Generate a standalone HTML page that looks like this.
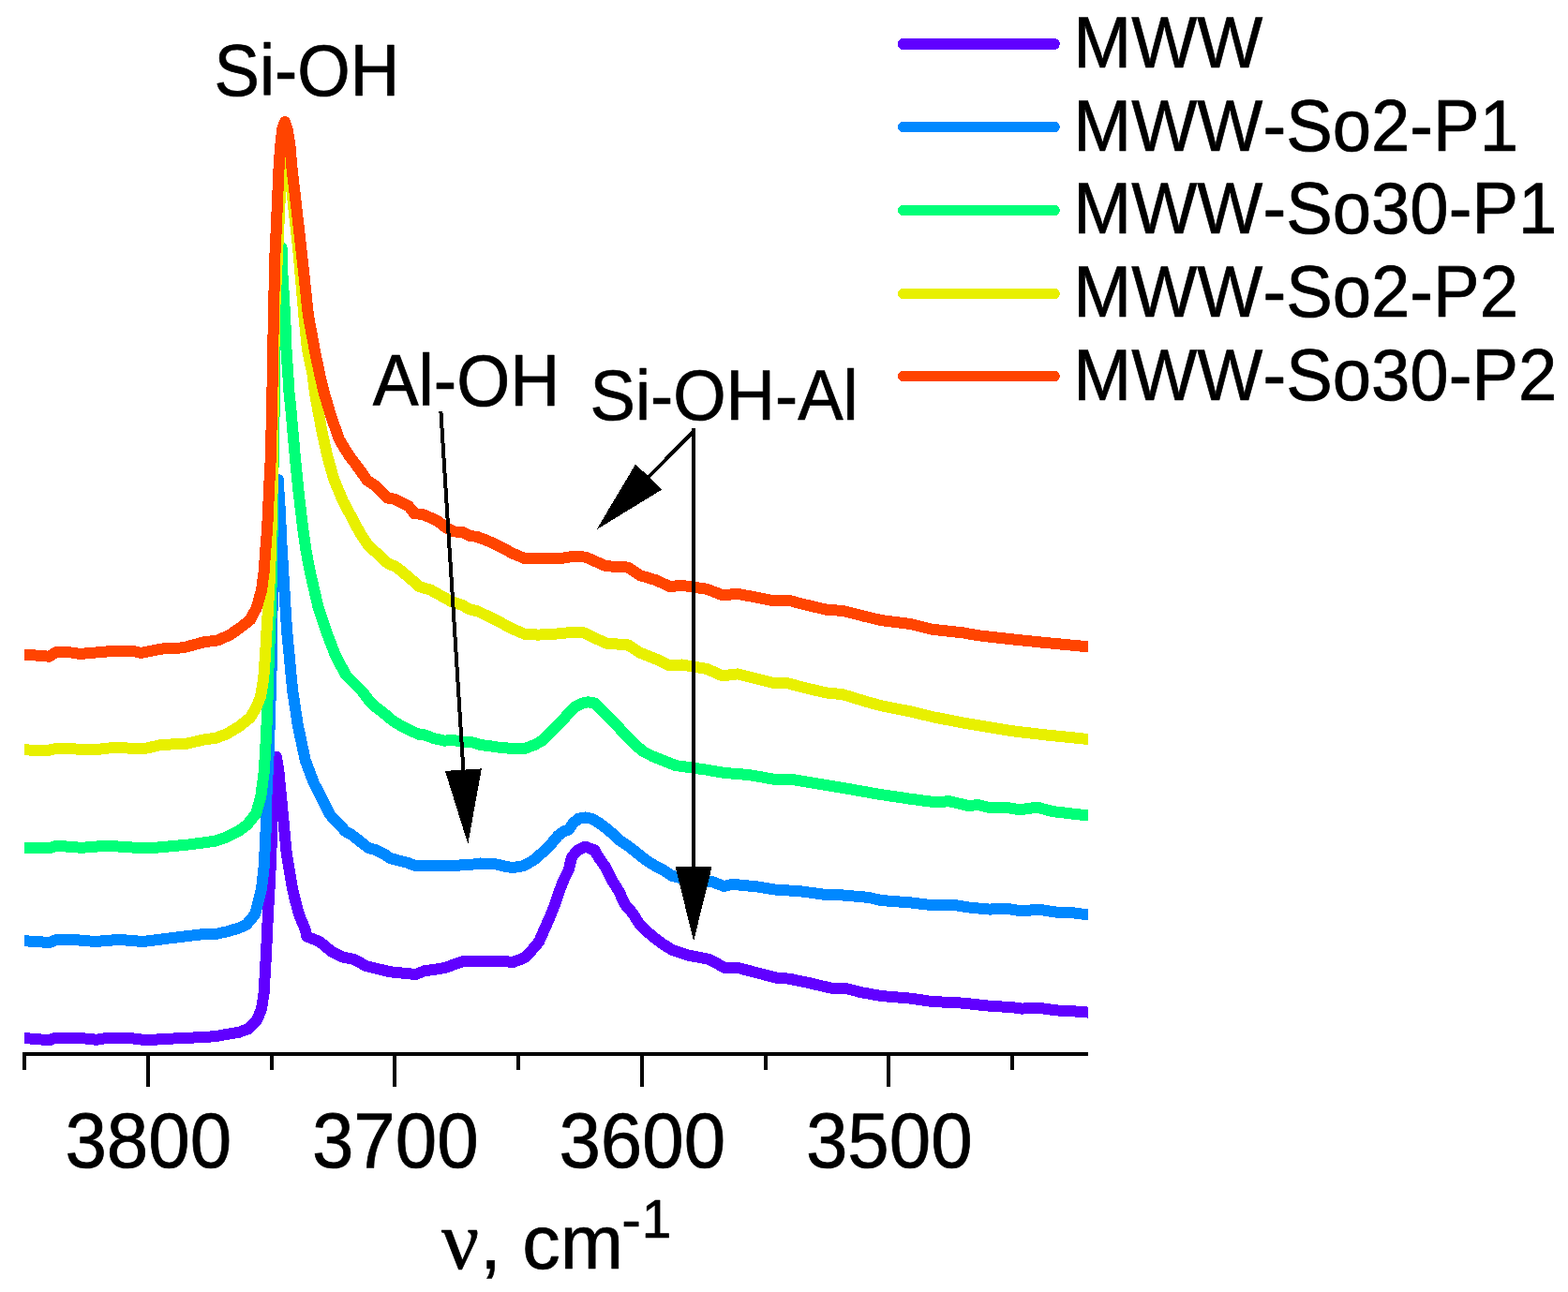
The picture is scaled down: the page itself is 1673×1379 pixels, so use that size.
<!DOCTYPE html>
<html lang="en"><head><meta charset="utf-8"><title>IR spectra of MWW zeolites</title>
<style>
html,body{margin:0;padding:0;background:#fff;}
body{width:1673px;height:1379px;overflow:hidden;}
svg{display:block;}
text{font-family:"Liberation Sans",sans-serif;fill:#000;font-kerning:none;stroke:#000;stroke-width:0.7px;stroke-linejoin:round;}
.tick{text-anchor:middle;}
.nu{font-family:"Liberation Serif",serif;}
</style></head><body>
<svg width="1673" height="1379" viewBox="0 0 1673 1379">
<rect width="1673" height="1379" fill="#fff"/>
<defs><clipPath id="plot"><rect x="26" y="0" width="1135" height="1123"/></clipPath></defs>
<g clip-path="url(#plot)" shape-rendering="crispEdges">
<polyline points="20.0,1108.0 26.0,1108.0 52.6,1110.2 59.8,1107.5 81.6,1107.5 103.3,1109.8 116.0,1107.5 134.0,1107.5 156.0,1110.2 181.0,1108.7 217.5,1107.0 230.0,1106.1 242.3,1103.9 254.7,1101.8 264.6,1098.4 273.8,1089.5 279.0,1077.0 281.8,1058.6 283.0,1034.0 284.0,1020.0 284.9,997.0 286.1,973.3 287.5,948.6 289.4,911.7 290.0,874.7 295.0,808.0 297.4,823.3 301.9,870.0 305.8,911.7 312.0,948.6 314.8,960.0 318.2,973.3 320.0,978.5 325.6,991.8 327.4,999.5 341.0,1005.0 353.3,1015.3 365.6,1021.6 378.0,1024.0 390.3,1030.9 402.6,1034.0 415.0,1037.0 420.0,1037.7 443.6,1040.0 452.6,1036.4 474.4,1033.1 494.3,1025.9 521.5,1025.9 530.0,1025.5 547.4,1026.9 559.0,1022.6 567.7,1013.9 575.0,1005.2 580.8,992.1 586.6,979.1 592.4,964.6 596.7,951.5 601.1,939.9 606.9,928.3 609.8,915.3 615.6,908.0 624.3,903.7 634.4,907.3 638.8,915.3 646.0,925.4 653.3,939.9 660.5,951.5 666.3,964.6 675.0,974.7 682.3,986.3 689.5,993.6 698.2,1000.8 706.9,1007.4 717.1,1013.9 733.8,1019.5 757.1,1024.0 773.2,1033.0 787.6,1033.0 809.1,1038.7 828.8,1043.7 841.4,1044.6 859.3,1048.2 886.2,1054.5 904.1,1055.4 918.1,1059.0 939.9,1063.0 972.5,1065.7 994.3,1069.0 1026.9,1070.6 1054.1,1073.5 1081.3,1075.3 1090.3,1076.6 1108.4,1075.7 1126.6,1078.4 1144.7,1079.3 1161.0,1080.6 1170.0,1081.0" fill="none" stroke="#6000ff" stroke-width="12" stroke-linejoin="round" stroke-linecap="butt"/>
<polyline points="20.0,1004.2 26.0,1004.2 52.6,1006.0 59.8,1003.3 78.0,1002.9 101.5,1005.0 127.0,1002.9 152.3,1005.0 181.0,1001.4 217.5,997.0 230.0,997.0 242.3,994.3 254.7,990.6 262.8,987.0 272.0,976.0 274.4,967.0 279.0,948.6 281.8,924.0 283.6,887.0 284.4,850.0 285.7,823.3 286.9,798.6 288.1,761.7 290.0,700.0 290.0,673.0 291.2,624.0 297.0,512.0 297.4,523.3 299.2,550.0 299.8,570.0 302.3,611.7 306.1,673.3 308.7,700.0 310.5,720.0 312.2,737.0 317.8,774.0 325.6,811.0 334.8,835.6 342.3,850.0 347.3,859.9 352.2,869.7 360.8,878.4 368.2,887.0 375.6,891.3 384.3,898.1 392.9,904.9 401.5,907.3 410.1,911.7 416.3,916.0 425.0,918.4 434.8,920.9 443.4,924.0 453.3,923.7 478.0,923.9 489.1,923.7 496.5,922.7 505.1,922.5 512.5,921.5 521.1,922.1 530.0,922.5 538.7,924.7 547.4,926.1 559.0,924.0 569.2,918.2 579.3,909.5 588.0,900.8 595.3,892.1 601.1,887.7 606.9,885.5 611.2,879.0 617.0,873.9 624.3,872.5 631.5,873.9 640.2,879.0 650.4,887.0 660.5,896.4 669.2,902.2 679.4,910.2 689.5,918.2 699.7,924.7 708.4,929.0 717.1,934.8 722.9,936.3 740.0,939.5 759.8,941.0 772.5,946.0 781.6,943.8 808.8,946.5 826.9,949.5 854.1,951.3 881.3,955.0 899.4,955.5 927.2,957.9 939.9,961.0 972.5,963.5 990.6,965.7 1017.8,966.0 1035.9,968.8 1055.9,970.6 1074.0,969.7 1090.3,972.4 1108.4,970.6 1126.6,973.6 1144.7,974.2 1161.0,976.5 1170.0,977.0" fill="none" stroke="#0088ff" stroke-width="12" stroke-linejoin="round" stroke-linecap="butt"/>
<polyline points="20.0,904.5 26.0,904.5 52.6,905.4 59.8,902.7 87.0,904.8 114.0,902.7 148.6,905.0 163.0,905.0 199.4,901.7 230.0,897.7 242.3,893.2 254.7,887.0 264.0,880.0 273.2,868.5 278.3,850.0 281.8,823.3 283.3,798.6 285.1,761.7 286.9,700.0 288.1,673.3 290.0,611.7 291.5,500.0 293.0,420.0 293.4,355.0 300.5,264.0 301.1,287.0 304.1,336.3 305.5,373.3 307.3,400.0 308.6,420.0 310.4,437.0 314.7,486.3 318.4,523.3 321.5,550.0 324.0,570.0 326.4,587.0 331.1,611.7 339.7,648.6 347.8,673.3 357.3,698.0 358.4,700.0 363.3,709.9 369.5,721.0 378.1,729.6 386.7,738.2 394.1,748.1 400.3,754.3 410.1,761.7 418.8,769.1 428.6,775.2 437.3,779.5 447.1,783.8 453.3,784.5 463.2,788.2 474.3,790.6 484.1,790.0 494.0,791.9 502.6,791.9 512.5,795.0 522.4,796.2 530.0,797.4 542.3,798.6 560.8,798.6 570.7,794.9 579.3,790.0 589.2,780.1 597.8,771.5 606.4,761.7 613.8,754.3 621.2,750.6 627.4,749.3 634.8,750.6 641.0,756.7 648.4,764.1 657.0,772.7 664.4,781.4 671.8,788.8 679.2,796.2 686.6,802.3 696.5,807.3 708.8,812.2 721.1,817.1 754.4,821.7 772.5,824.9 799.7,827.1 826.9,832.0 845.0,832.0 881.3,838.0 899.4,840.9 936.3,847.5 972.5,852.9 999.7,856.5 1012.4,855.1 1034.1,860.2 1043.2,858.9 1057.7,862.5 1072.2,861.6 1088.5,864.3 1106.6,861.6 1123.0,866.1 1161.0,870.5 1170.0,871.0" fill="none" stroke="#00ff78" stroke-width="12" stroke-linejoin="round" stroke-linecap="butt"/>
<polyline points="20.0,800.4 26.0,800.4 50.7,801.0 61.6,798.6 99.7,800.4 123.0,797.7 152.0,799.5 172.0,795.0 199.0,793.7 217.5,789.5 230.0,787.8 242.3,783.2 254.7,775.8 267.0,766.0 273.2,755.5 278.1,743.2 281.2,724.7 283.0,700.0 284.5,673.3 286.1,648.6 288.1,611.7 289.4,570.0 290.0,550.0 290.6,523.3 291.8,420.0 293.0,336.0 296.1,270.0 299.3,200.0 303.5,140.0 311.0,200.0 318.6,270.0 324.3,336.3 328.0,373.3 333.6,400.0 336.0,420.0 339.1,437.0 343.7,461.7 349.2,486.3 356.0,511.0 366.3,535.6 373.0,548.0 379.3,560.0 385.5,571.1 392.9,582.2 404.0,592.1 413.8,601.3 422.5,605.0 431.1,611.8 441.0,620.4 447.1,626.0 459.5,629.7 469.3,635.2 481.7,642.0 492.8,645.7 500.2,650.0 510.0,652.5 519.9,657.4 530.0,662.3 546.9,671.2 559.6,676.7 574.1,677.6 592.2,676.7 610.3,674.9 623.0,675.4 646.6,686.6 670.1,688.4 682.8,696.6 701.0,703.9 714.5,710.4 727.2,709.5 754.4,714.0 770.7,721.3 787.0,719.4 808.8,724.9 826.9,729.4 841.4,729.4 854.1,733.0 881.3,739.4 899.4,741.2 923.6,748.7 939.9,753.2 972.5,759.6 994.3,765.0 1026.9,771.4 1045.0,774.4 1081.3,780.4 1117.5,784.6 1161.0,789.0 1170.0,790.0" fill="none" stroke="#e8f000" stroke-width="12" stroke-linejoin="round" stroke-linecap="butt"/>
<polyline points="20.0,698.5 26.0,698.5 52.6,700.7 59.8,696.2 76.0,696.5 85.0,698.0 116.0,695.3 141.0,694.7 150.4,697.0 172.0,692.6 195.8,691.3 217.5,685.3 232.0,683.5 244.7,678.0 256.0,670.2 267.0,661.6 273.8,648.6 279.0,630.0 281.5,611.7 283.3,587.0 284.7,570.0 285.9,550.0 287.0,523.3 288.9,486.3 290.4,420.0 291.9,336.3 293.5,270.0 294.5,250.0 297.8,174.0 299.0,158.5 301.0,139.0 304.0,130.0 306.8,139.0 309.9,158.5 311.0,175.0 319.6,250.0 323.7,287.0 328.9,336.3 335.7,373.3 341.2,400.0 346.0,420.0 349.7,432.3 353.4,444.7 357.7,457.0 362.1,469.3 371.9,485.4 379.3,495.2 385.5,503.8 391.7,512.5 399.0,517.4 406.4,524.8 413.8,531.6 421.2,532.8 428.6,536.5 436.0,540.2 442.2,548.2 450.8,548.9 459.5,552.6 468.1,556.9 475.5,563.0 484.1,567.4 494.0,568.0 500.2,571.7 508.8,572.9 518.7,576.6 530.0,581.5 546.9,590.6 559.6,596.0 583.1,596.0 601.3,595.6 612.1,593.8 624.8,594.6 646.6,604.2 670.1,605.6 682.8,614.1 701.0,619.6 714.5,626.1 727.2,624.8 754.4,628.8 770.7,635.2 787.0,633.9 808.8,637.9 826.9,641.5 841.4,640.6 854.1,644.2 881.3,650.6 899.4,652.0 923.6,658.1 939.9,662.0 972.5,666.2 994.3,671.7 1026.9,675.3 1045.0,678.4 1081.3,682.5 1117.5,686.2 1161.0,690.3 1170.0,691.0" fill="none" stroke="#ff4400" stroke-width="12" stroke-linejoin="round" stroke-linecap="butt"/>
</g>
<g stroke="#000" stroke-width="4" shape-rendering="crispEdges" fill="none">
<line x1="24" y1="1125" x2="1161" y2="1125"/>
<line x1="26.0" y1="1125" x2="26.0" y2="1142"/>
<line x1="157.8" y1="1125" x2="157.8" y2="1160"/>
<line x1="289.5" y1="1125" x2="289.5" y2="1142"/>
<line x1="421.2" y1="1125" x2="421.2" y2="1160"/>
<line x1="553.0" y1="1125" x2="553.0" y2="1142"/>
<line x1="684.8" y1="1125" x2="684.8" y2="1160"/>
<line x1="816.5" y1="1125" x2="816.5" y2="1142"/>
<line x1="948.2" y1="1125" x2="948.2" y2="1160"/>
<line x1="1080.0" y1="1125" x2="1080.0" y2="1142"/>
</g>
<text class="tick" font-size="79.9" transform="translate(158.25,1246.40) scale(1,1.046)" >3800</text>
<text class="tick" font-size="79.9" transform="translate(421.75,1246.40) scale(1,1.046)" >3700</text>
<text class="tick" font-size="79.9" transform="translate(685.25,1246.40) scale(1,1.046)" >3600</text>
<text class="tick" font-size="79.9" transform="translate(948.75,1246.40) scale(1,1.046)" >3500</text>
<text class="ax"><tspan class="nu" x="471" y="1354.3" font-size="89">ν</tspan><tspan x="512.3" y="1354.3" font-size="80.9">, cm</tspan><tspan x="663.2" y="1323" font-size="62">-</tspan><tspan x="684.8" y="1320.9" font-size="56.7">1</tspan></text>
<line x1="963.9" y1="47.0" x2="1124.8" y2="47.0" stroke="#6000ff" stroke-width="12" stroke-linecap="round" shape-rendering="crispEdges"/>
<text class="leg" font-size="74.3" transform="translate(1145.30,72.10) scale(1,1.043)" >MWW</text>
<line x1="963.4" y1="135.5" x2="1125.3" y2="135.5" stroke="#0088ff" stroke-width="11" stroke-linecap="round" shape-rendering="crispEdges"/>
<text class="leg" font-size="74.3" transform="translate(1145.30,160.70) scale(1,1.043)" >MWW-So2-P1</text>
<line x1="963.4" y1="224.5" x2="1125.3" y2="224.5" stroke="#00ff78" stroke-width="11" stroke-linecap="round" shape-rendering="crispEdges"/>
<text class="leg" font-size="74.3" transform="translate(1145.30,249.30) scale(1,1.043)" >MWW-So30-P1</text>
<line x1="963.4" y1="313.5" x2="1125.3" y2="313.5" stroke="#e8f000" stroke-width="11" stroke-linecap="round" shape-rendering="crispEdges"/>
<text class="leg" font-size="74.3" transform="translate(1145.30,337.90) scale(1,1.043)" >MWW-So2-P2</text>
<line x1="963.4" y1="401.5" x2="1125.3" y2="401.5" stroke="#ff4400" stroke-width="11" stroke-linecap="round" shape-rendering="crispEdges"/>
<text class="leg" font-size="74.3" transform="translate(1145.30,426.50) scale(1,1.043)" >MWW-So30-P2</text>
<text class="lab" font-size="72.56" transform="translate(228.56,102.00) scale(1,1.068)" >Si-OH</text>
<text class="lab" font-size="73.25" transform="translate(397.75,432.80) scale(1,1.05)" >Al-OH</text>
<text class="lab" font-size="72.54" transform="translate(629.56,448.00) scale(1,1.06)" >Si-OH-Al</text>
<g shape-rendering="crispEdges">
<line x1="470.4" y1="439.3" x2="494.5" y2="823.7" stroke="#000" stroke-width="4"/><polygon points="474.9,822.9 513.8,820.4 499.3,901.0" fill="#000"/>
<line x1="740.1" y1="457.3" x2="740.1" y2="927.0" stroke="#000" stroke-width="4"/><polygon points="720.6,925.0 759.6,925.0 740.1,1004.5" fill="#000"/>
<line x1="739.5" y1="461.0" x2="690.7" y2="510.4" stroke="#000" stroke-width="4"/><polygon points="678.2,495.3 706.0,522.7 636.6,565.2" fill="#000"/>
</g>
</svg></body></html>
